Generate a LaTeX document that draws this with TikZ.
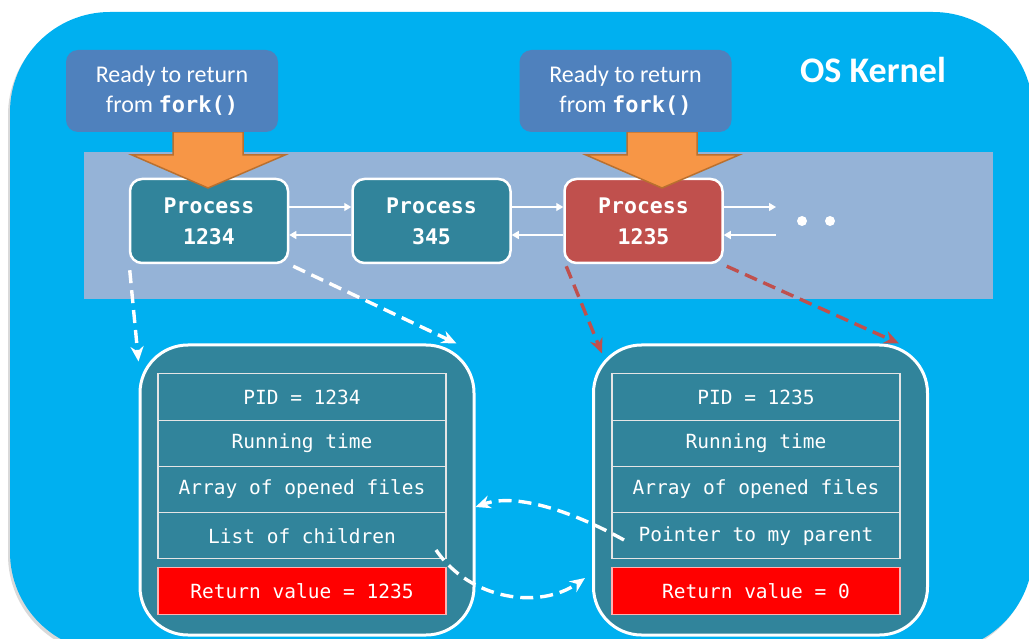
\documentclass[tikz,border=0pt]{standalone}
\usepackage{fontspec}
\setmainfont{Carlito}
\setmonofont{DejaVu Sans Mono}
\usetikzlibrary{arrows.meta,positioning}

\definecolor{kernelblue}{HTML}{00B0F0}
\definecolor{queueband}{HTML}{95B3D7}
\definecolor{readyblue}{HTML}{4F81BD}
\definecolor{procteal}{HTML}{31849B}
\definecolor{procred}{HTML}{C0504D}
\definecolor{forkorange}{HTML}{F79646}
\definecolor{forkedge}{HTML}{B9702F}

\begin{document}
\begin{tikzpicture}[x=1pt,y=-1pt,
		readybox/.style={fill=readyblue, rounded corners=12pt, minimum width=212pt, minimum height=82pt, text=white, align=center, font=\fontsize{24}{30}\selectfont},
		proc/.style={fill=procteal, draw=white, line width=2.5pt, rounded corners=12pt, minimum width=158pt, minimum height=84pt, text=white, align=center, font=\fontsize{21.5}{31}\selectfont\ttfamily\bfseries},
		pcb/.style={fill=procteal, draw=white, line width=3pt, rounded corners=48pt, minimum width=334pt, minimum height=290pt},
		field/.style={draw=white!80!gray, line width=1.2pt, minimum width=288pt, minimum height=46.25pt, outer sep=0pt, text=white, font=\fontsize{19.5}{24}\selectfont\ttfamily},
		retval/.style={field, fill=red, draw=white!70!red, minimum height=47pt},
		link/.style={white, line width=1.2pt, -{Triangle[length=7pt,width=8pt]}},
		ptr/.style={white, line width=3.4pt, dash pattern=on 13pt off 7pt, -{Stealth[length=15pt,width=13pt]}},
		ptrred/.style={ptr, procred},
		forkarrow/.style={fill=forkorange, draw=forkedge, line width=1.5pt, line join=miter}]
	\useasboundingbox (0,0) rectangle (1029,639);
	\clip (0,0) rectangle (1029,639);
	
	% kernel area and run queue band
	\fill[black, opacity=.15, rounded corners=100pt] (8,15) rectangle (1031,655);
	\fill[kernelblue, rounded corners=100pt] (10,12) rectangle (1033,652);
	\fill[queueband] (84,152) rectangle (993,299);
	
	\node[text=white, font=\fontsize{36}{40}\selectfont\bfseries] (kernel) at (873,70) {OS Kernel};
	
	% processes in the queue
	\node[proc] (p1234) at (209,221) {Process\\1234};
	\node[proc] (p345) at (431.5,221) {Process\\345};
	\node[proc, fill=procred] (p1235) at (643.5,221) {Process\\1235};
	\coordinate (more) at (776,221);
	
	\draw[link] ([yshift=14pt]p1234.east) -- ([yshift=14pt]p345.west);
	\draw[link] ([yshift=-14pt]p345.west) -- ([yshift=-14pt]p1234.east);
	\draw[link] ([yshift=14pt]p345.east) -- ([yshift=14pt]p1235.west);
	\draw[link] ([yshift=-14pt]p1235.west) -- ([yshift=-14pt]p345.east);
	\draw[link] ([yshift=14pt]p1235.east) -- ([yshift=14pt]more);
	\draw[link] ([yshift=-14pt]more) -- ([yshift=-14pt]p1235.east);
	\fill[white] (802,221) circle (5pt) (830,221) circle (5pt);
	
	% ready to return
	\foreach \cx in {208,662}
		\draw[forkarrow] (\cx-35,132) -- ++(70,0) -- ++(0,23) -- ++(42,0) -- (\cx,188) -- (\cx-76,155) -- ++(41,0) -- cycle;
	\node[readybox] (ready1) at (172,91) {Ready to return\\from {\fontsize{22}{30}\selectfont\ttfamily\bfseries fork()}};
	\node[readybox] (ready2) at (625.5,91) {Ready to return\\from {\fontsize{22}{30}\selectfont\ttfamily\bfseries fork()}};
	
	% parent PCB
	\node[pcb] (pcb1) at (307,490) {};
	\node[field] (pid1) at (302,397) {PID = 1234};
	\node[field, below=0pt of pid1] (time1) {Running time};
	\node[field, below=0pt of time1] (files1) {Array of opened files};
	\node[field, below=0pt of files1] (kids1) {List of children};
	\node[retval, below=9pt of kids1] (ret1) {Return value = 1235};
	
	% child PCB
	\node[pcb] (pcb2) at (760.5,490) {};
	\node[field] (pid2) at (756,397) {PID = 1235};
	\node[field, below=0pt of pid2] (time2) {Running time};
	\node[field, below=0pt of time2] (files2) {Array of opened files};
	\node[field, below=0pt of files2] (parent2) {Pointer to my parent};
	\node[retval, below=9pt of parent2] (ret2) {Return value = 0};
	
	\draw[ptr] ([xshift=1pt,yshift=-6pt]p1234.south west) -- ([yshift=-18pt]pcb1.north west);
	\draw[ptr] ([xshift=4pt,yshift=-2pt]p1234.south east) -- ([xshift=-19pt]pcb1.north east);
	\draw[ptrred] ([xshift=3pt,yshift=-2pt]p1235.south west) -- ([xshift=10pt,yshift=-10pt]pcb2.north west);
	\draw[ptrred] ([xshift=3pt,yshift=-2pt]p1235.south east) -- ([xshift=-30pt]pcb2.north east);
	
	\coordinate (parentptr) at (624,540);
	\coordinate (childptr) at (436,550);
	\coordinate (childend) at (585,578);
	\draw[ptr] (parentptr) .. controls (570,510) and (515,493) .. ([yshift=-17pt]pcb1.east);
	\draw[ptr] (childptr) .. controls (470,600) and (540,610) .. (childend);
\end{tikzpicture}
\end{document}
